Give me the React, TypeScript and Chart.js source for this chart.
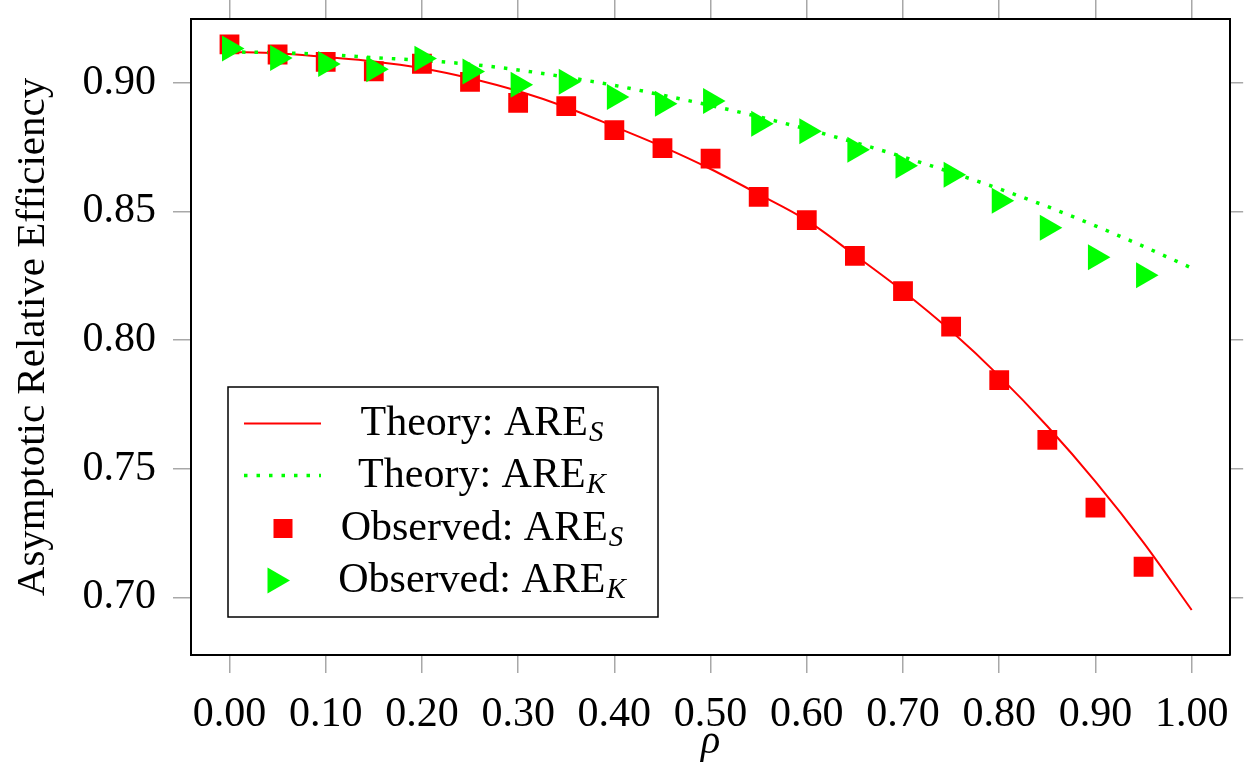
import React, { useEffect, useRef } from 'react';
import { Chart, registerables } from 'chart.js';

Chart.register(...registerables);

// ---- data ----
const rhoTheory = [0, 0.05, 0.1, 0.15, 0.2, 0.25, 0.3, 0.35, 0.4, 0.45, 0.5, 0.55, 0.6, 0.65, 0.7, 0.75, 0.8, 0.85, 0.9, 0.95, 1.0];
const theoryS = [0.912, 0.9115, 0.91, 0.9083, 0.9057, 0.9018, 0.8968, 0.8905, 0.883, 0.8752, 0.8665, 0.8567, 0.8465, 0.833, 0.819, 0.8035, 0.786, 0.7665, 0.745, 0.7213, 0.6951];
const theoryK = [0.912, 0.9117, 0.911, 0.9098, 0.9087, 0.9072, 0.905, 0.9022, 0.899, 0.8952, 0.8912, 0.8868, 0.882, 0.8768, 0.8712, 0.8652, 0.8588, 0.8519, 0.8444, 0.8364, 0.828];

const rhoObserved = [0, 0.05, 0.1, 0.15, 0.2, 0.25, 0.3, 0.35, 0.4, 0.45, 0.5, 0.55, 0.6, 0.65, 0.7, 0.75, 0.8, 0.85, 0.9, 0.95];
const observedS = [0.9149, 0.911, 0.9081, 0.9045, 0.9074, 0.9004, 0.8922, 0.8909, 0.8816, 0.8746, 0.8705, 0.8557, 0.8466, 0.8327, 0.819, 0.8052, 0.7844, 0.7612, 0.7349, 0.7119];
const observedK = [0.9133, 0.9096, 0.9073, 0.9053, 0.9094, 0.9044, 0.8992, 0.9004, 0.8945, 0.8919, 0.8929, 0.8841, 0.8812, 0.874, 0.8678, 0.8643, 0.8542, 0.8437, 0.8322, 0.8252];

const xTicks = [0, 0.1, 0.2, 0.3, 0.4, 0.5, 0.6, 0.7, 0.8, 0.9, 1.0];
const yTicks = [0.7, 0.75, 0.8, 0.85, 0.9];

const xTitle = 'ρ';
const yTitle = 'Asymptotic Relative Efficiency';

const legendMain = ['Theory: ARE', 'Theory: ARE', 'Observed: ARE', 'Observed: ARE'];
const legendSub = ['S', 'K', 'S', 'K'];
const legendKind = ['line', 'dotted', 'square', 'triangle'];

const RED = '#ff0000';
const GREEN = '#00ff00';
const FAMILY = '"Liberation Serif", "Times New Roman", serif';

const toPoints = (xs: number[], ys: number[]) => xs.map((x, i) => ({ x, y: ys[i] }));

const texLegend = {
  id: 'texLegend',
  afterDraw(chart: any) {
    const { ctx, chartArea } = chart;
    const w = 430;
    const h = 230;
    const left = chartArea.left + 37;
    const top = chartArea.bottom - 38 - h;
    ctx.save();
    ctx.fillStyle = '#ffffff';
    ctx.fillRect(left, top, w, h);
    ctx.strokeStyle = '#000000';
    ctx.lineWidth = 1.5;
    ctx.strokeRect(left, top, w, h);

    const baselines = [48, 100, 153, 205];
    const symCx = left + 55;
    const textCx = left + 254;
    for (let i = 0; i < legendMain.length; i++) {
      const base = top + baselines[i];
      const sy = base - 11.5;
      const kind = legendKind[i];
      if (kind === 'line' || kind === 'dotted') {
        ctx.beginPath();
        ctx.strokeStyle = kind === 'line' ? RED : GREEN;
        ctx.lineWidth = kind === 'line' ? 2 : 3.5;
        ctx.setLineDash(kind === 'line' ? [] : [3.5, 9]);
        ctx.moveTo(left + 16, sy);
        ctx.lineTo(left + 93, sy);
        ctx.stroke();
        ctx.setLineDash([]);
      } else if (kind === 'square') {
        ctx.fillStyle = RED;
        ctx.fillRect(symCx - 9.5, sy - 9.5, 19, 19);
      } else {
        const r = 15;
        ctx.fillStyle = GREEN;
        ctx.beginPath();
        ctx.moveTo(symCx - 8 + r, sy);
        ctx.lineTo(symCx - 8 - r / 2, sy - (Math.sqrt(3) / 2) * r);
        ctx.lineTo(symCx - 8 - r / 2, sy + (Math.sqrt(3) / 2) * r);
        ctx.closePath();
        ctx.fill();
      }
      ctx.fillStyle = '#000000';
      ctx.textBaseline = 'alphabetic';
      ctx.textAlign = 'left';
      const mainFont = `42px ${FAMILY}`;
      const subFont = `italic 29px ${FAMILY}`;
      ctx.font = mainFont;
      const wm = ctx.measureText(legendMain[i]).width;
      ctx.font = subFont;
      const ws = ctx.measureText(legendSub[i]).width;
      const x0 = textCx - (wm + ws + 1) / 2;
      ctx.font = mainFont;
      ctx.fillText(legendMain[i], x0, base);
      ctx.font = subFont;
      ctx.fillText(legendSub[i], x0 + wm + 1, base + 6);
    }
    ctx.restore();
  },
};

const tickGrid = (len: number) => ({
  drawOnChartArea: false,
  drawTicks: true,
  tickLength: len,
  color: '#a8a8a8',
  lineWidth: 1.5,
});
const blackBorder = { display: true, color: '#000000', width: 2 };

const fixVertical = (width: number) => (s: any) => {
  s.width = width;
  s.paddingTop = 0;
  s.paddingBottom = 0;
};

export default function App() {
  const canvasRef = useRef<HTMLCanvasElement | null>(null);

  useEffect(() => {
    document.body.style.margin = '0';
    const canvas = canvasRef.current;
    if (!canvas) return;
    const chart = new Chart(canvas, {
      type: 'line',
      data: {
        datasets: [
          {
            label: 'Theory: ARE_S',
            data: toPoints(rhoTheory, theoryS),
            borderColor: RED,
            borderWidth: 2,
            pointRadius: 0,
            fill: false,
            cubicInterpolationMode: 'monotone',
            order: 4,
          },
          {
            label: 'Theory: ARE_K',
            data: toPoints(rhoTheory, theoryK),
            borderColor: GREEN,
            borderWidth: 3.5,
            borderDash: [3.5, 9],
            pointRadius: 0,
            fill: false,
            cubicInterpolationMode: 'monotone',
            order: 3,
          },
          {
            label: 'Observed: ARE_S',
            data: toPoints(rhoObserved, observedS),
            showLine: false,
            pointStyle: 'rect',
            pointRadius: 14,
            backgroundColor: RED,
            borderColor: RED,
            borderWidth: 0,
            order: 2,
          },
          {
            label: 'Observed: ARE_K',
            data: toPoints(rhoObserved, observedK),
            showLine: false,
            pointStyle: 'triangle',
            pointRotation: 90,
            pointRadius: 15,
            backgroundColor: GREEN,
            borderColor: GREEN,
            borderWidth: 0,
            order: 1,
          },
        ],
      } as any,
      options: {
        animation: false,
        responsive: false,
        devicePixelRatio: 1,
        events: [],
        layout: { padding: 0 },
        plugins: { legend: { display: false }, tooltip: { enabled: false } },
        scales: {
          x: {
            type: 'linear',
            position: 'bottom',
            min: -0.04,
            max: 1.04,
            afterBuildTicks: (s: any) => { s.ticks = xTicks.map((v) => ({ value: v })); },
            afterFit: (s: any) => { s.height = 114; },
            ticks: {
              callback: (v: any) => Number(v).toFixed(2),
              font: { family: FAMILY, size: 42 },
              color: '#000000',
              padding: 17,
              maxRotation: 0,
              autoSkip: false,
            },
            grid: tickGrid(18),
            border: blackBorder,
            title: {
              display: true,
              text: xTitle,
              font: { family: FAMILY, size: 40, style: 'italic' },
              color: '#000000',
              padding: { top: 0, bottom: 3 },
            },
          },
          x2: {
            type: 'linear',
            position: 'top',
            display: true,
            min: -0.04,
            max: 1.04,
            afterBuildTicks: (s: any) => { s.ticks = xTicks.map((v) => ({ value: v })); },
            afterFit: (s: any) => { s.height = 19; },
            ticks: { display: false },
            grid: tickGrid(19),
            border: blackBorder,
          },
          y: {
            type: 'linear',
            position: 'left',
            min: 0.6776,
            max: 0.9248,
            afterBuildTicks: (s: any) => { s.ticks = yTicks.map((v) => ({ value: v })); },
            afterFit: fixVertical(191),
            ticks: {
              callback: (v: any) => Number(v).toFixed(2),
              font: { family: FAMILY, size: 42 },
              color: '#000000',
              padding: 17,
              autoSkip: false,
            },
            grid: tickGrid(18),
            border: blackBorder,
            title: {
              display: true,
              text: yTitle,
              font: { family: FAMILY, size: 41 },
              color: '#000000',
              padding: { top: 9, bottom: 0 },
            },
          },
          y2: {
            type: 'linear',
            position: 'right',
            display: true,
            min: 0.6776,
            max: 0.9248,
            afterBuildTicks: (s: any) => { s.ticks = yTicks.map((v) => ({ value: v })); },
            afterFit: fixVertical(13),
            ticks: { display: false },
            grid: tickGrid(13),
            border: blackBorder,
          },
        },
      } as any,
      plugins: [texLegend],
    });
    return () => chart.destroy();
  }, []);

  return (
    <div style={{ width: 1246, height: 769, background: '#ffffff' }}>
      <canvas ref={canvasRef} width={1246} height={769} style={{ display: 'block' }} />
    </div>
  );
}
